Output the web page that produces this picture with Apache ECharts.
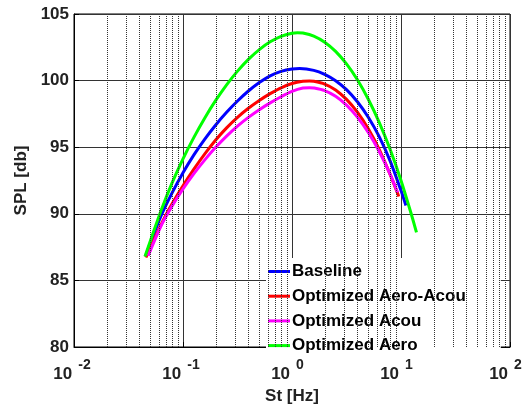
<!DOCTYPE html>
<html>
<head>
<meta charset="utf-8">
<script src="https://cdn.jsdelivr.net/npm/echarts@6/dist/echarts.min.js"></script>
<style>html,body{margin:0;padding:0;background:#fff;}#c{width:524px;height:404px;}</style>
</head>
<body>
<div id="c"></div>
<script>
// ---- data ----
var seriesNames = ['Baseline', 'Optimized Aero-Acou', 'Optimized Acou', 'Optimized Aero'];
var seriesColors = ['#0000ff', '#ff0000', '#ff00ff', '#00ff00'];

var baselineSt  = [0.04519, 0.0631, 0.07943, 0.1, 0.12589, 0.15849, 0.19953, 0.25119, 0.31623, 0.39811, 0.50119, 0.63096, 0.79433, 1, 1.1749, 1.5849, 1.9953, 2.5119, 3.1623, 3.9811, 5.0119, 6.3096, 7.9433, 10, 11.092];
var baselineSpl = [86.8, 89.87, 91.57, 93.08, 94.42, 95.61, 96.67, 97.62, 98.47, 99.22, 99.86, 100.36, 100.69, 100.87, 100.9, 100.77, 100.47, 99.99, 99.32, 98.41, 97.25, 95.79, 93.97, 91.74, 90.62];

var aeroAcouSt  = [0.04571, 0.0631, 0.07943, 0.1, 0.12589, 0.15849, 0.19953, 0.25119, 0.31623, 0.39811, 0.50119, 0.63096, 0.79433, 1, 1.2589, 1.4454, 1.5849, 1.9953, 2.5119, 3.1623, 3.9811, 5.0119, 6.3096, 7.9433, 9.5499];
var aeroAcouSpl = [86.72, 89.21, 90.75, 92.11, 93.35, 94.5, 95.54, 96.45, 97.24, 97.92, 98.51, 99.02, 99.46, 99.78, 99.95, 99.97, 99.95, 99.74, 99.3, 98.59, 97.63, 96.39, 94.84, 92.96, 91.3];

var acouSt  = [0.04797, 0.0631, 0.07943, 0.1, 0.12589, 0.15849, 0.19953, 0.25119, 0.31623, 0.39811, 0.50119, 0.63096, 0.79433, 1, 1.2589, 1.4454, 1.5849, 1.9953, 2.5119, 3.1623, 3.9811, 5.0119, 6.3096, 7.9433, 9.2897];
var acouSpl = [86.85, 89.11, 90.58, 91.86, 93.01, 94.05, 94.99, 95.83, 96.58, 97.24, 97.82, 98.33, 98.79, 99.19, 99.44, 99.47, 99.45, 99.25, 98.82, 98.16, 97.26, 96.1, 94.68, 92.98, 91.6];

var aeroSt  = [0.04477, 0.0631, 0.07943, 0.1, 0.12589, 0.15849, 0.19953, 0.25119, 0.31623, 0.39811, 0.50119, 0.63096, 0.79433, 1, 1.122, 1.2589, 1.5849, 1.9953, 2.5119, 3.1623, 3.9811, 5.0119, 6.3096, 7.9433, 10, 12.589, 13.868];
var aeroSpl = [86.79, 90.26, 92.32, 94.13, 95.74, 97.2, 98.51, 99.68, 100.71, 101.59, 102.33, 102.91, 103.32, 103.56, 103.6, 103.57, 103.34, 102.88, 102.19, 101.25, 100.06, 98.6, 96.87, 94.84, 92.5, 89.82, 88.6];

var yTicks = [80, 85, 90, 95, 100, 105];
var xMin = 0.01, xMax = 100;
var minorGrid = [0.02, 0.03, 0.04, 0.05, 0.06, 0.07, 0.08, 0.09,
                 0.2, 0.3, 0.4, 0.5, 0.6, 0.7, 0.8, 0.9,
                 2, 3, 4, 5, 6, 7, 8, 9,
                 20, 30, 40, 50, 60, 70, 80, 90];

function zip(xs, ys) { return xs.map(function (x, i) { return [x, ys[i]]; }); }
var allData = [zip(baselineSt, baselineSpl), zip(aeroAcouSt, aeroAcouSpl), zip(acouSt, acouSpl), zip(aeroSt, aeroSpl)];

var FONT = 'Liberation Sans, Arial, Helvetica, sans-serif';
var chart = echarts.init(document.getElementById('c'), null, { renderer: 'canvas' });

var series = [{
  type: 'line', name: '_grid', data: [], z: 1, silent: true,
  markLine: {
    silent: true, symbol: ['none', 'none'], animation: false,
    label: { show: false },
    lineStyle: { type: [1, 1], color: '#333', width: 1 },
    emphasis: { disabled: true },
    data: minorGrid.map(function (v) { return { xAxis: v }; })
  }
}];
allData.forEach(function (d, i) {
  series.push({
    type: 'line', name: seriesNames[i], data: d, smooth: 0.3,
    showSymbol: false, symbol: 'none', z: 3,
    lineStyle: { color: seriesColors[i], width: 3 },
    itemStyle: { color: seriesColors[i] }
  });
});

chart.setOption({
  animation: false,
  backgroundColor: '#fff',
  grid: { left: 74, right: 14, top: 14, bottom: 57, outerBoundsMode: 'none', containLabel: false,
          show: true, borderColor: '#000', borderWidth: 1, backgroundColor: 'transparent' },
  xAxis: {
    type: 'log', logBase: 10, min: xMin, max: xMax,
    name: 'St [Hz]', nameLocation: 'middle', nameGap: 40,
    nameTextStyle: { fontFamily: FONT, fontSize: 17, fontWeight: 'bold', color: '#222' },
    axisLine: { show: true, lineStyle: { color: '#000', width: 1 } },
    axisTick: { show: true, inside: true, length: 5, lineStyle: { color: '#000' } },
    minorTick: { show: false },
    splitLine: { show: true, lineStyle: { color: '#333', width: 1, type: 'solid' } },
    axisLabel: {
      margin: 11,
      formatter: function (v) {
        var e = Math.round(Math.log10(v));
        return '{b|10}' + (e < 0 ? '{en|' : '{ep|') + e + '}';
      },
      rich: {
        b: { fontFamily: FONT, fontSize: 17, fontWeight: 'bold', color: '#222', verticalAlign: 'bottom' },
        en: { fontFamily: FONT, fontSize: 14, fontWeight: 'bold', color: '#222', verticalAlign: 'top', lineHeight: 25, padding: [0, 4, 0, 6] },
        ep: { fontFamily: FONT, fontSize: 14, fontWeight: 'bold', color: '#222', verticalAlign: 'top', lineHeight: 25, padding: [0, 9, 0, 6] }
      }
    }
  },
  yAxis: {
    type: 'value', min: yTicks[0], max: yTicks[yTicks.length - 1], interval: 5,
    name: 'SPL [db]', nameLocation: 'middle', nameGap: 44,
    nameTextStyle: { fontFamily: FONT, fontSize: 17, fontWeight: 'bold', color: '#222' },
    axisLine: { show: true, lineStyle: { color: '#000', width: 1 } },
    axisTick: { show: true, inside: true, length: 5, lineStyle: { color: '#000' } },
    splitLine: { show: true, lineStyle: { color: '#333', width: 1 } },
    axisLabel: { margin: 5, fontFamily: FONT, fontSize: 17, fontWeight: 'bold', color: '#222' }
  },
  legend: {
    orient: 'vertical', left: 266, top: 258,
    data: seriesNames,
    icon: 'rect', itemWidth: 22, itemHeight: 3, itemGap: 7.7,
    backgroundColor: '#fff', borderWidth: 0,
    padding: [5, 35, 1, 2],
    textStyle: { fontFamily: FONT, fontSize: 17, fontWeight: 'bold', color: '#000', padding: [0, 0, 0, -3] },
    selectedMode: false
  },
  series: series
});
</script>
</body>
</html>
